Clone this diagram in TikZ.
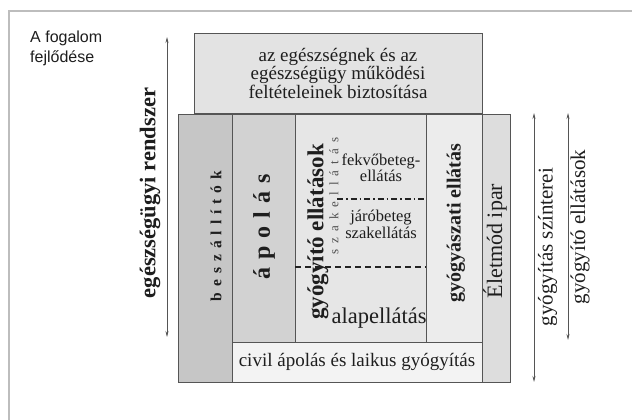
\documentclass[tikz,border=0pt]{standalone}
\usepackage{fontspec}
\setmainfont{Liberation Serif}
\newfontfamily\arialf{Liberation Sans}
\usetikzlibrary{arrows.meta}
\definecolor{frameC}{HTML}{BDBDBD}
\definecolor{lineC}{HTML}{555555}
\definecolor{topF}{HTML}{E3E3E3}
\definecolor{beszF}{HTML}{C6C6C6}
\definecolor{apolF}{HTML}{D2D2D2}
\definecolor{gyogF}{HTML}{E6E6E6}
\definecolor{gyaszF}{HTML}{ECECEC}
\definecolor{eletF}{HTML}{DDDDDD}
\definecolor{civilF}{HTML}{F3F3F3}
\definecolor{txtC}{HTML}{1E1E1E}
\definecolor{szakC}{HTML}{505050}
\newcommand{\spc}[2]{{\spaceskip=#1\relax #2}}
\begin{document}
\begin{tikzpicture}[x=1pt,y=-1pt,
  blk/.style={draw=lineC, line width=0.8pt, inner sep=0pt, outer sep=0pt},
  lbl/.style={inner sep=0pt, text=txtC, align=center},
  vlbl/.style={lbl, rotate=90},
  dbl/.style={draw=lineC, line width=0.7pt, {Stealth[length=6pt,width=3pt]}-{Stealth[length=6pt,width=3pt]}}
]
\useasboundingbox (0,0) rectangle (632,420);
\fill[white] (0,0) rectangle (632,420);
% outer frame (cut at right and bottom)
\draw[frameC, line width=2pt] (9,420) -- (9,11) -- (632,11);

% top box
\node[blk, fill=topF, minimum width=288pt, minimum height=80pt] (topbox) at (338,73) {};
\node[lbl, font=\fontsize{19}{18.5}\selectfont] (toptxt) at (338,73)
  {az egészségnek és az\\egészségügy működési\\feltételeinek biztosítása};

% columns
\node[blk, fill=beszF, minimum width=54pt, minimum height=268pt] (besz) at (205,248) {};
\node[blk, fill=apolF, minimum width=63pt, minimum height=228pt] (apol) at (263.5,228) {};
\node[blk, fill=gyogF, minimum width=131pt, minimum height=228pt] (gyog) at (360.5,228) {};
\node[blk, fill=gyaszF, minimum width=56pt, minimum height=228pt] (gyasz) at (454,228) {};
\node[blk, fill=civilF, minimum width=250pt, minimum height=40pt] (civil) at (357,362) {};
\node[blk, fill=eletF, minimum width=28pt, minimum height=268pt] (elet) at (496,248) {};

% labels in columns
\node[vlbl, font=\fontsize{15.5}{15.5}\selectfont\bfseries] (beszt) at (216,236) {\spc{6pt}{b e s z á l l í t ó k}};
\node[vlbl, font=\fontsize{24}{24}\selectfont\bfseries] (apolt) at (264,227) {\spc{8pt}{á p o l á s}};
\node[vlbl, font=\fontsize{23}{23}\selectfont\bfseries] (gyogt) at (318,232) {gyógyító ellátások};
\node[vlbl, text=szakC, font=\fontsize{13}{13}\selectfont] (szakt) at (334,196) {\spc{6pt}{s z a k e l l á t á s}};
\node[lbl, font=\fontsize{16.5}{14}\selectfont] (fekvt) at (381,168) {fekvőbeteg-\\ellátás};
\node[lbl, font=\fontsize{16.5}{17}\selectfont] (jarot) at (381,224) {járóbeteg\\szakellátás};
\node[lbl, font=\fontsize{22.5}{22.5}\selectfont] (alapt) at (379,318) {alapellátás};
\node[vlbl, font=\fontsize{20}{20}\selectfont\bfseries] (gyaszt) at (456,223) {gyógyászati ellátás};
\node[vlbl, font=\fontsize{22}{22}\selectfont] (elett) at (495,241) {Életmód ipar};
\node[lbl, font=\fontsize{19}{19}\selectfont] (civilt) at (357,362) {civil ápolás és laikus gyógyítás};

% separating lines inside gyógyító column
\coordinate (dd1) at (337,199);
\coordinate (dd2) at (426,199);
\draw[lineC!40!black, line width=1.3pt, dash pattern=on 6pt off 3pt on 1.5pt off 3pt] (dd1) -- (dd2);
\coordinate (ds1) at (295,267);
\coordinate (ds2) at (426,267);
\draw[lineC!40!black, line width=1.3pt, dash pattern=on 6pt off 4pt] (ds1) -- (ds2);

% left arrow
\coordinate (la1) at (167,37);
\coordinate (la2) at (167,337);
\draw[dbl] (la1) -- (la2);
\node[vlbl, font=\fontsize{22.5}{22.5}\selectfont\bfseries] (egrt) at (150,193) {egészségügyi rendszer};

% right arrows
\coordinate (ra1) at (534,113);
\coordinate (ra2) at (534,382);
\draw[dbl] (ra1) -- (ra2);
\node[vlbl, font=\fontsize{21}{21}\selectfont] (szint) at (547.5,247) {gyógyítás színterei};
\coordinate (rb1) at (568,113);
\coordinate (rb2) at (568,340);
\draw[dbl] (rb1) -- (rb2);
\node[vlbl, font=\fontsize{21}{21}\selectfont] (gyell) at (580,227) {gyógyító ellátások};

% top-left caption
\node[inner sep=0pt, anchor=north west, align=left, font=\arialf\fontsize{16}{19.5}\selectfont, text=txtC] (fog) at (30,31) {A fogalom\\fejlődése};
\end{tikzpicture}
\end{document}
